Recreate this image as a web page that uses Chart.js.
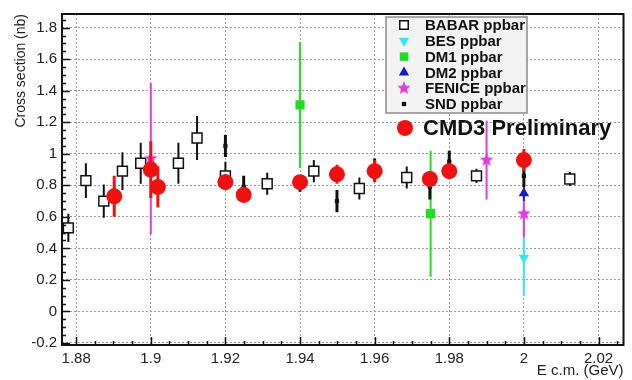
<!DOCTYPE html>
<html>
<head>
<meta charset="utf-8">
<script src="https://cdn.jsdelivr.net/npm/chart.js@4.4.0/dist/chart.umd.min.js"></script>
<style>
  html, body { margin: 0; padding: 0; background: #fff; }
</style>
</head>
<body>
<canvas id="grafico" width="632" height="380"></canvas>
<script>
// Datos (E en GeV, seccion eficaz en nb)
const babarEnergia = [1.8779, 1.8826, 1.8874, 1.8924, 1.8973, 1.9074, 1.9124, 1.9200, 1.9312, 1.9437, 1.9559, 1.9686, 1.9873, 2.0123]
const babarValor = [0.53, 0.83, 0.70, 0.89, 0.94, 0.94, 1.10, 0.86, 0.81, 0.89, 0.78, 0.85, 0.86, 0.84]
const babarError = [0.09, 0.11, 0.105, 0.12, 0.13, 0.13, 0.14, 0.09, 0.07, 0.07, 0.07, 0.07, 0.045, 0.045]

const cmd3Energia = [1.8902, 1.9000, 1.9019, 1.9200, 1.9249, 1.9400, 1.9499, 1.9600, 1.9748, 1.9800, 2.0000]
const cmd3Valor = [0.73, 0.90, 0.79, 0.82, 0.74, 0.82, 0.87, 0.89, 0.84, 0.89, 0.96]
const cmd3Error = [0.13, 0.18, 0.13, 0.05, 0.05, 0.04, 0.06, 0.07, 0.05, 0.05, 0.07]

const sndEnergia = [1.9200, 1.9249, 1.9400, 1.9499, 1.9600, 1.9748, 1.9800, 2.0000]
const sndValor = [1.05, 0.79, 0.81, 0.70, 0.90, 0.79, 0.95, 0.86]
const sndError = [0.07, 0.07, 0.05, 0.07, 0.07, 0.08, 0.07, 0.07]

const dm1Energia = [1.9400, 1.9750]
const dm1Valor = [1.31, 0.62]
const dm1Error = [0.40, 0.40]

const dm2Energia = [2.0000]
const dm2Valor = [0.75]
const dm2Error = [0.05]

const feniceEnergia = [1.9000, 1.9900, 2.0000]
const feniceValor = [0.97, 0.96, 0.62]
const feniceError = [0.48, 0.25, 0.15]

const besEnergia = [2.0000]
const besValor = [0.34]
const besError = [0.24]

const ordenLeyenda = ['BABAR ppbar', 'BES ppbar', 'DM1 ppbar', 'DM2 ppbar', 'FENICE ppbar', 'SND ppbar']

const fuente = 'Liberation Sans, Arial, Helvetica, sans-serif'

// estrella rellena para FENICE (el pointStyle 'star' de Chart.js es de lineas)
function crearEstrella(r, color) {
    const c = document.createElement('canvas')
    c.width = c.height = 2 * r + 2
    const g = c.getContext('2d')
    g.fillStyle = color
    g.beginPath()
    for (let k = 0; k < 10; k++) {
        const rad = k % 2 ? r * 0.45 : r
        const ang = -Math.PI / 2 + k * Math.PI / 5
        const px = r + 1 + rad * Math.cos(ang)
        const py = r + 1 + rad * Math.sin(ang)
        if (k === 0) g.moveTo(px, py)
        else g.lineTo(px, py)
    }
    g.closePath()
    g.fill()
    return c
}

function puntos(energias, valores) {
    return energias.map((e, i) => ({ x: e, y: valores[i] }))
}

// el primer dataset se dibuja encima
const datasets = [
    {
        label: 'CMD3 Preliminary', data: puntos(cmd3Energia, cmd3Valor), errores: cmd3Error,
        colorError: '#ee1111', anchoError: 3,
        pointStyle: 'circle', pointRadius: 8, backgroundColor: '#ee1111', borderColor: '#ee1111', borderWidth: 0
    },
    {
        label: 'SND ppbar', data: puntos(sndEnergia, sndValor), errores: sndError,
        colorError: '#111', anchoError: 3,
        pointStyle: 'rect', pointRadius: 3, backgroundColor: '#111', borderColor: '#111', borderWidth: 0
    },
    {
        label: 'DM2 ppbar', data: puntos(dm2Energia, dm2Valor), errores: dm2Error,
        colorError: '#1a1acc', anchoError: 2,
        pointStyle: 'triangle', pointRadius: 6, backgroundColor: '#1a1acc', borderColor: '#1a1acc', borderWidth: 0
    },
    {
        label: 'FENICE ppbar', data: puntos(feniceEnergia, feniceValor), errores: feniceError,
        colorError: '#e03ce0', anchoError: 2,
        pointStyle: crearEstrella(7, '#e03ce0'), pointRadius: 7, backgroundColor: '#e03ce0', borderColor: '#e03ce0', borderWidth: 0
    },
    {
        label: 'DM1 ppbar', data: puntos(dm1Energia, dm1Valor), errores: dm1Error,
        colorError: '#22dd22', anchoError: 2,
        pointStyle: 'rect', pointRadius: 6.5, backgroundColor: '#22dd22', borderColor: '#22dd22', borderWidth: 0
    },
    {
        label: 'BES ppbar', data: puntos(besEnergia, besValor), errores: besError,
        colorError: '#33e8f0', anchoError: 2,
        pointStyle: 'triangle', pointRotation: 180, pointRadius: 6, backgroundColor: '#33e8f0', borderColor: '#33e8f0', borderWidth: 0
    },
    {
        label: 'BABAR ppbar', data: puntos(babarEnergia, babarValor), errores: babarError,
        colorError: '#111', anchoError: 2,
        pointStyle: 'rect', pointRadius: 7, backgroundColor: '#fff', borderColor: '#111', borderWidth: 1.5
    }
]

// Barras de error, dibujadas justo antes de los puntos de cada serie
const barrasError = {
    id: 'barrasError',
    beforeDatasetDraw(chart, args) {
        const ds = chart.data.datasets[args.index]
        if (!ds.errores) return
        const { ctx, chartArea: a, scales: { x, y } } = chart
        ctx.save()
        ctx.beginPath()
        ctx.rect(a.left, a.top, a.right - a.left, a.bottom - a.top)
        ctx.clip()
        ctx.strokeStyle = ds.colorError
        ctx.lineWidth = ds.anchoError
        ds.data.forEach((p, i) => {
            const px = x.getPixelForValue(p.x)
            ctx.beginPath()
            ctx.moveTo(px, y.getPixelForValue(p.y + ds.errores[i]))
            ctx.lineTo(px, y.getPixelForValue(p.y - ds.errores[i]))
            ctx.stroke()
        })
        ctx.restore()
    }
}

// Marco, marcas de ejes estilo ROOT, titulos y leyenda
const decoracion = {
    id: 'decoracion',
    afterDraw(chart) {
        const { ctx, chartArea: a, scales: { x, y } } = chart
        ctx.save()
        ctx.strokeStyle = '#111'
        ctx.lineWidth = 1.5
        // marcas eje y (menores cada 0.05)
        for (let k = -4; k <= 37; k++) {
            const py = Math.round(y.getPixelForValue(k * 0.05)) + 0.5
            if (py < a.top || py > a.bottom) continue
            const largo = k % 4 === 0 ? 8 : 4
            ctx.beginPath()
            ctx.moveTo(a.left, py)
            ctx.lineTo(a.left + largo, py)
            ctx.stroke()
        }
        // marcas eje x (menores cada 0.005)
        for (let k = 376; k <= 405; k++) {
            const px = Math.round(x.getPixelForValue(k * 0.005)) + 0.5
            if (px < a.left || px > a.right) continue
            const largo = k % 4 === 0 ? 8 : 4
            ctx.beginPath()
            ctx.moveTo(px, a.bottom)
            ctx.lineTo(px, a.bottom - largo)
            ctx.stroke()
        }
        // marco
        ctx.lineWidth = 2
        ctx.strokeRect(a.left, a.top, a.right - a.left, a.bottom - a.top)

        // titulos de ejes
        ctx.fillStyle = '#222'
        ctx.font = '14px ' + fuente
        ctx.save()
        ctx.translate(21, a.top)
        ctx.rotate(-Math.PI / 2)
        ctx.textAlign = 'right'
        ctx.textBaseline = 'middle'
        ctx.fillText('Cross section (nb)', 0, 0)
        ctx.restore()
        ctx.font = '15px ' + fuente
        ctx.textAlign = 'right'
        ctx.textBaseline = 'middle'
        ctx.fillText('E c.m. (GeV)', a.right, 371)

        // leyenda
        ctx.fillStyle = '#f3f3f3'
        ctx.fillRect(386, 17, 141, 96)
        ctx.strokeStyle = '#8a8a8a'
        ctx.lineWidth = 1.5
        ctx.strokeRect(386, 17, 141, 96)
        ctx.font = 'bold 15px ' + fuente
        ctx.textAlign = 'left'
        ordenLeyenda.forEach((nombre, i) => {
            const ds = chart.data.datasets.find(d => d.label === nombre)
            const fy = 25 + i * 15.8
            ctx.fillStyle = ds.backgroundColor
            ctx.strokeStyle = ds.borderColor
            ctx.lineWidth = ds.borderWidth
            Chart.helpers.drawPoint(ctx, {
                pointStyle: ds.pointStyle,
                rotation: ds.pointRotation || 0,
                radius: Math.min(ds.pointRadius, 6),
                borderWidth: ds.borderWidth
            }, 404, fy)
            ctx.fillStyle = '#111'
            ctx.fillText(nombre, 425, fy + 1)
        })

        // etiqueta CMD3
        const cmd3 = chart.data.datasets[0]
        ctx.fillStyle = cmd3.backgroundColor
        ctx.beginPath()
        ctx.arc(405, 128, 8, 0, 2 * Math.PI)
        ctx.fill()
        ctx.fillStyle = '#111'
        ctx.font = 'bold 22px ' + fuente
        ctx.fillText(cmd3.label, 423, 129)
        ctx.restore()
    }
}

const etiqueta = v => String(Math.round(v * 100) / 100)

new Chart(document.getElementById('grafico'), {
    type: 'scatter',
    data: { datasets: datasets },
    options: {
        responsive: false,
        animation: false,
        layout: { padding: { top: 10, right: 6, left: 0, bottom: 0 } },
        plugins: { legend: { display: false }, tooltip: { enabled: false } },
        scales: {
            x: {
                type: 'linear',
                min: 1.8762,
                max: 2.0267,
                afterFit: s => { s.height = 35 },
                ticks: {
                    stepSize: 0.02, includeBounds: false, callback: etiqueta,
                    font: { family: fuente, size: 15 }, color: '#222', padding: 5, maxRotation: 0
                },
                grid: { color: '#9a9a9a', lineWidth: 1, drawTicks: false },
                border: { display: false, dash: [2, 2] }
            },
            y: {
                min: -0.213,
                max: 1.887,
                afterFit: s => { s.width = 62 },
                ticks: {
                    stepSize: 0.2, includeBounds: false, callback: etiqueta,
                    font: { family: fuente, size: 15 }, color: '#222', padding: 5
                },
                grid: { color: '#9a9a9a', lineWidth: 1, drawTicks: false },
                border: { display: false, dash: [2, 2] }
            }
        }
    },
    plugins: [barrasError, decoracion]
})
</script>
</body>
</html>
